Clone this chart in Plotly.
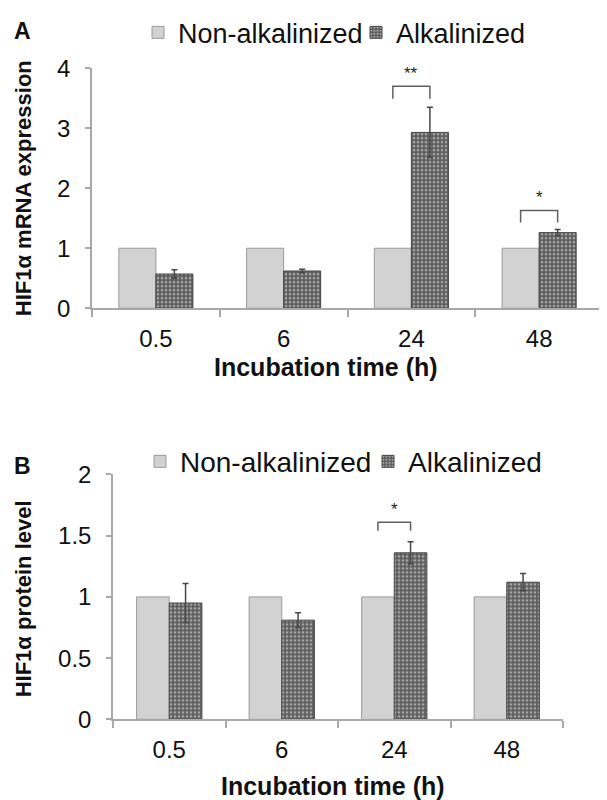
import plotly.graph_objects as go

# ---------------- data ----------------
categories = ["0.5", "6", "24", "48"]
series_names = ["Non-alkalinized", "Alkalinized"]

# Panel A: HIF1a mRNA expression
mrna_non = [1.0, 1.0, 1.0, 1.0]
mrna_alk = [0.57, 0.62, 2.93, 1.26]
mrna_alk_err = [0.07, 0.03, 0.42, 0.05]
mrna_sig_idx = [2, 3]
mrna_sig_text = ["**", "*"]
mrna_sig_top = [3.70, 1.63]
mrna_sig_leg = [3.49, 1.43]
mrna_yticks = [0, 1, 2, 3, 4]

# Panel B: HIF1a protein level
prot_non = [1.0, 1.0, 1.0, 1.0]
prot_alk = [0.95, 0.81, 1.36, 1.12]
prot_alk_err = [0.16, 0.06, 0.09, 0.07]
prot_sig_idx = [2]
prot_sig_text = ["*"]
prot_sig_top = [1.61]
prot_sig_leg = [1.54]
prot_yticks = [0, 0.5, 1, 1.5, 2]

# ---------------- style ----------------
PAGE_W, PAGE_H = 607, 800
OFF = 8  # default body margin of the html page
W, H = PAGE_W - OFF, PAGE_H - OFF
FONT = "Liberation Sans, Arial, sans-serif"
NON_COLOR = "#d2d2d2"
NON_LINE = "#9a9a9a"
ALK_BG = "#5e5e5e"
ALK_FG = "#a6a6a6"
ALK_LINE = "#474747"
AXIS_COLOR = "#a8a8a8"


def px_x(p):
    return (p - OFF) / W


def px_y(p):
    return 1 - (p - OFF) / H


fig = go.Figure()


def add_panel(xa, ya, legs, non, alk, err):
    fig.add_trace(go.Bar(
        x=categories, y=non, name=series_names[0], xaxis=xa, yaxis=ya,
        legend=legs[0],
        marker=dict(color=NON_COLOR, line=dict(color=NON_LINE, width=1)),
    ))
    fig.add_trace(go.Bar(
        x=categories, y=alk, name=series_names[1], xaxis=xa, yaxis=ya,
        legend=legs[1],
        marker=dict(color=ALK_BG, line=dict(color=ALK_LINE, width=1),
                    pattern=dict(shape=".", bgcolor=ALK_BG, fgcolor=ALK_FG,
                                 size=4, solidity=0.35, fillmode="replace")),
        error_y=dict(type="data", array=err, color="#474747", thickness=1.5, width=3),
    ))


add_panel("x", "y", ["legend", "legend2"], mrna_non, mrna_alk, mrna_alk_err)
add_panel("x2", "y2", ["legend3", "legend4"], prot_non, prot_alk, prot_alk_err)

tickfont = dict(family=FONT, size=24, color="#111")

common_x = dict(type="category", showline=True, linecolor=AXIS_COLOR, linewidth=1.5,
                ticks="outside", tickson="boundaries", ticklen=7, tickcolor=AXIS_COLOR,
                tickwidth=1.5, tickfont=tickfont, showgrid=False, zeroline=False,
                automargin=False, ticklabelstandoff=8, range=[-0.5, 3.5], fixedrange=True)
common_y = dict(showline=True, linecolor=AXIS_COLOR, linewidth=1.5, ticks="outside",
                ticklen=5, tickcolor=AXIS_COLOR, tickwidth=1.5, tickfont=tickfont,
                showgrid=False, zeroline=False, automargin=False, ticklabelstandoff=10,
                fixedrange=True)

# Pixel geometry of plot areas (page pixels)
A_x0, A_x1, A_ytop, A_ybot = 92, 603, 56, 300
B_x0, B_x1, B_ytop, B_ybot = 113, 563, 469, 718


def legend_at(x, y, size):
    return dict(orientation="h", x=px_x(x), y=px_y(y), xanchor="left", yanchor="middle",
                font=dict(family=FONT, size=size, color="#111"), itemwidth=30,
                bgcolor="rgba(0,0,0,0)", borderwidth=0)


fig.update_layout(
    width=W, height=H,
    margin=dict(l=0, r=0, t=0, b=0),
    paper_bgcolor="white", plot_bgcolor="white",
    barmode="group",
    bargap=0.42,
    font=dict(family=FONT, color="#111"),
    xaxis=dict(common_x, domain=[px_x(A_x0), px_x(A_x1)], anchor="y"),
    yaxis=dict(common_y, domain=[px_y(A_ybot), px_y(A_ytop)], anchor="x",
               range=[0, 4], tickvals=mrna_yticks),
    xaxis2=dict(common_x, domain=[px_x(B_x0), px_x(B_x1)], anchor="y2"),
    yaxis2=dict(common_y, domain=[px_y(B_ybot), px_y(B_ytop)], anchor="x2",
                range=[0, 2], tickvals=prot_yticks),
    legend=legend_at(138, 20, 27),
    legend2=legend_at(356, 20, 27),
    legend3=legend_at(140, 456, 28),
    legend4=legend_at(368, 456, 28),
    showlegend=True,
)

# significance brackets
off = (1 - 0.42) / 4


def add_brackets(xref, yref, idxs, texts, tops, legs):
    for k, i in enumerate(idxs):
        xl, xr = i - off, i + off
        fig.add_shape(type="path", xref=xref, yref=yref,
                      path=f"M {xl},{legs[k]} L {xl},{tops[k]} L {xr},{tops[k]} L {xr},{legs[k]}",
                      line=dict(color="#606060", width=1.5))
        fig.add_annotation(x=i, y=tops[k], xref=xref, yref=yref, text=texts[k],
                           showarrow=False, yanchor="bottom", yshift=1,
                           font=dict(family=FONT, size=17, color="#222"))


add_brackets("x", "y", mrna_sig_idx, mrna_sig_text, mrna_sig_top, mrna_sig_leg)
add_brackets("x2", "y2", prot_sig_idx, prot_sig_text, prot_sig_top, prot_sig_leg)


# titles and panel labels
def ann(x, y, text, size, angle=0, bold=True):
    fig.add_annotation(x=px_x(x), y=px_y(y), xref="paper", yref="paper",
                       text=f"<b>{text}</b>" if bold else text, showarrow=False,
                       textangle=angle, xanchor="center", yanchor="middle",
                       font=dict(family=FONT, size=size, color="#111"))


ann(22, 18, "A", 23)
ann(22, 460, "B", 23)
ann(23, 178, "HIF1α mRNA expression", 22, -90)
ann(23, 596, "HIF1α protein level", 22, -90)
ann(326, 360, "Incubation time (h)", 25)
ann(333, 786, "Incubation time (h)", 25)

fig.write_html("out.html")
